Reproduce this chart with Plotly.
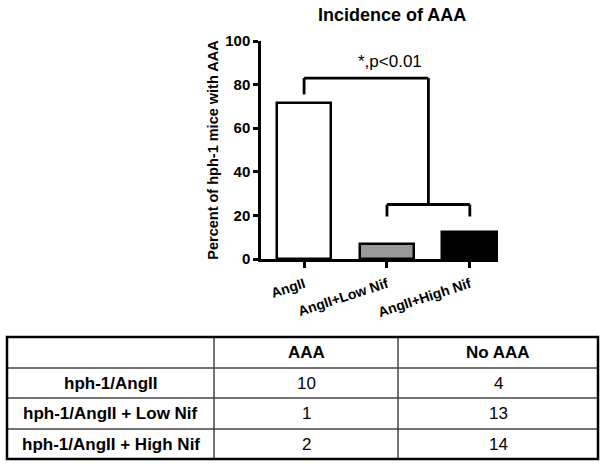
import plotly.graph_objects as go

# ---- data ----
title = "Incidence of AAA"
categories = ["AngII", "AngII+Low Nif", "AngII+High Nif"]
percent_aaa = [71.4, 7.1, 12.5]
bar_colors = ["#ffffff", "#999999", "#000000"]
y_ticks = [0, 20, 40, 60, 80, 100]
y_title = "Percent of hph-1 mice with AAA"
sig_label = "*,p<0.01"

table_header = ["", "AAA", "No AAA"]
table_groups = ["hph-1/AngII", "hph-1/AngII + Low Nif", "hph-1/AngII + High Nif"]
table_aaa = [10, 1, 2]
table_no_aaa = [4, 13, 14]

W, H = 602, 467
FONT = "Liberation Sans, Arial, Helvetica, sans-serif"

def px(x):
    return x / W

def py(y):
    return 1 - y / H

fig = go.Figure()
fig.add_trace(go.Bar(
    x=[0, 1, 2], y=percent_aaa, width=0.66,
    marker=dict(color=bar_colors, line=dict(color="black", width=2.5)),
    showlegend=False, hoverinfo="skip",
))

shapes = []
# significance brackets (data coords)
br = dict(type="line", xref="x", yref="y", line=dict(color="black", width=2.8))
upper = [(0, 75.5, 0, 83), (0, 83, 1.5, 83), (1.5, 83, 1.5, 25)]
lower = [(1, 19.5, 1, 25), (1, 25, 2, 25), (2, 25, 2, 19.5)]
for x0, y0, x1, y1 in upper + lower:
    shapes.append(dict(br, x0=x0, y0=y0, x1=x1, y1=y1))

annotations = [
    dict(text="<b>" + title + "</b>", x=px(392), y=py(15), xref="paper", yref="paper",
         showarrow=False, font=dict(size=18, family=FONT, color="black"),
         xanchor="center", yanchor="middle"),
    dict(text=sig_label, x=1.04, y=90.5, xref="x", yref="y", showarrow=False,
         font=dict(size=17, family=FONT, color="black"), xanchor="center", yanchor="middle"),
]

# ---- table ----
tx0, tx1 = 7, 598
col_x = [7, 214, 398, 598]
row_y = [337, 368, 398, 429, 459]
for cx in col_x[1:-1]:
    shapes.append(dict(type="line", xref="paper", yref="paper", x0=px(cx), x1=px(cx),
                       y0=py(row_y[0]), y1=py(row_y[-1]), line=dict(color="#444444", width=1.5)))
for ry in row_y[1:-1]:
    shapes.append(dict(type="line", xref="paper", yref="paper", x0=px(tx0), x1=px(tx1),
                       y0=py(ry), y1=py(ry), line=dict(color="#444444", width=1.5)))
shapes.append(dict(type="rect", xref="paper", yref="paper", x0=px(tx0), x1=px(tx1),
                   y0=py(row_y[-1]), y1=py(row_y[0]), line=dict(color="black", width=2.5)))

rows = [table_header] + [[g, str(a), str(n)] for g, a, n in zip(table_groups, table_aaa, table_no_aaa)]
for r, row in enumerate(rows):
    yc = (row_y[r] + row_y[r + 1]) / 2
    for c, val in enumerate(row):
        if not val:
            continue
        xc = (col_x[c] + col_x[c + 1]) / 2
        bold = (r == 0) or (c == 0)
        annotations.append(dict(
            text=("<b>%s</b>" % val) if bold else val,
            x=px(xc), y=py(yc), xref="paper", yref="paper", showarrow=False,
            xanchor="center", yanchor="middle",
            font=dict(size=17, family=FONT, color="black")))

fig.update_layout(
    width=W, height=H, margin=dict(l=0, r=0, t=0, b=0, autoexpand=False),
    paper_bgcolor="white", plot_bgcolor="white",
    bargap=0,
    xaxis=dict(domain=[px(261), px(498)], range=[-0.52, 2.34], automargin=False,
               tickvals=[0, 1, 2], ticktext=["<b>%s</b>" % c for c in categories],
               tickangle=-18, ticklabelstandoff=3,
               ticks="outside", ticklen=6, tickwidth=2.5, tickcolor="black",
               showline=True, linewidth=2.5, linecolor="black", showgrid=False, zeroline=False,
               tickfont=dict(size=14, family=FONT, color="black")),
    yaxis=dict(domain=[py(259), py(41)], range=[0, 100], tickvals=y_ticks, automargin=False,
               ticktext=["<b>%d</b>" % v for v in y_ticks],
               ticks="outside", ticklen=5, tickwidth=2.5, tickcolor="black",
               showline=True, linewidth=2.5, linecolor="black", showgrid=False, zeroline=False,
               tickfont=dict(size=15, family=FONT, color="black"),
               title=dict(text="<b>" + y_title + "</b>", standoff=4,
                          font=dict(size=14.5, family=FONT, color="black"))),
    shapes=shapes, annotations=annotations,
)

fig.write_html("out.html", config={"displayModeBar": False},
               post_script="document.body.style.margin='0';")
